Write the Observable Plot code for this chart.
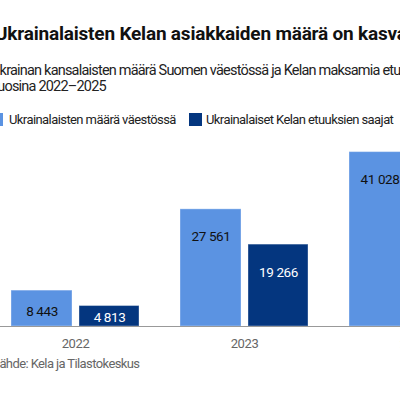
<!DOCTYPE html>
<html><head><meta charset="utf-8">
<script src="https://cdn.jsdelivr.net/npm/d3@7"></script>
<script src="https://cdn.jsdelivr.net/npm/@observablehq/plot@0.6"></script>
<style>
body{margin:0;background:#fff;}
#wrap{position:relative;width:400px;height:400px;overflow:hidden;font-family:Roboto,sans-serif;color:#111;background:#fff;}
.t{position:absolute;white-space:nowrap;}
#title{left:-5px;top:21.5px;font-size:19px;line-height:24px;font-weight:700;letter-spacing:-0.2px;}
#sub{left:-9px;top:63px;font-size:14.5px;line-height:16px;color:#222;letter-spacing:-0.8px;}
.sw{position:absolute;width:13px;height:13px;top:113px;}
.lg{position:absolute;top:112.5px;font-size:13px;line-height:14px;white-space:nowrap;color:#222;letter-spacing:-0.58px;}
#cap{left:-7px;top:355.5px;font-size:13px;line-height:16px;color:#666;letter-spacing:-0.6px;}
#chart{position:absolute;left:0;top:140px;}
#chart svg{max-width:none !important;}
</style></head><body><div id="wrap">
<div class="t" id="title">Ukrainalaisten Kelan asiakkaiden määrä on kasvanut</div>
<div class="t" id="sub">Ukrainan kansalaisten määrä Suomen väestössä ja Kelan maksamia etuuksia saaneet<br>vuosina 2022–2025</div>
<div id="legend"></div>
<div id="chart"></div>
<div class="t" id="cap">Lähde: Kela ja Tilastokeskus</div>
</div>
<script>
const years = ["2022", "2023", "2024", "2025"];
const seriesNames = ["Ukrainalaisten määrä väestössä", "Ukrainalaiset Kelan etuuksien saajat"];
const seriesColors = ["#5b93e2", "#04367f"];
const populationYears = ["2022", "2023", "2024"];
const populationValues = [8443, 27561, 41028];
const kelaYears = ["2022", "2023"];
const kelaValues = [4813, 19266];

const fmt = d3.formatLocale({decimal: ",", thousands: "\u00a0", grouping: [3]}).format(",");
const popData = populationYears.map((year, i) => ({year, value: populationValues[i]}));
const kelaData = kelaYears.map((year, i) => ({year, value: kelaValues[i]}));
const labelY = d => Math.max(d.value * 0.42, d.value - 6500);

// legend
const legend = document.getElementById("legend");
const legendX = [[-10, 9], [189, 206]];
seriesNames.forEach((name, i) => {
  const sw = document.createElement("div");
  sw.className = "sw"; sw.style.left = legendX[i][0] + "px"; sw.style.background = seriesColors[i];
  const tx = document.createElement("div");
  tx.className = "lg"; tx.style.left = legendX[i][1] + "px"; tx.textContent = name;
  legend.append(sw, tx);
});

const plot = Plot.plot({
  width: 657,
  height: 220,
  marginLeft: 0,
  marginRight: 0,
  marginTop: 0,
  marginBottom: 34,
  style: {fontFamily: "Roboto, sans-serif", fontSize: "13px", color: "#666", background: "white", maxWidth: "none"},
  x: {domain: years, paddingInner: 41 / 169, paddingOuter: 11 / 169, axis: null},
  y: {domain: [0, 43760], axis: null},
  marks: [
    Plot.barY(popData, {x: "year", y: "value", fill: seriesColors[0], insetRight: 67, stroke: "white", strokeOpacity: 0.35}),
    Plot.barY(kelaData, {x: "year", y: "value", fill: seriesColors[1], insetLeft: 68, stroke: "white", strokeOpacity: 0.35}),
    Plot.ruleY([0], {stroke: "#999"}),
    Plot.text(popData, {x: "year", y: labelY, text: d => fmt(d.value), dx: -33.5, fill: "#111", fontSize: 13.5}),
    Plot.text(kelaData, {x: "year", y: labelY, text: d => fmt(d.value), dx: 34, fill: "white", fontSize: 13.5}),
    Plot.axisX({tickSize: 0, tickPadding: 12, label: null, fontSize: 13})
  ]
});
plot.querySelectorAll("text").forEach(t => { if (/\d/.test(t.textContent)) t.style.letterSpacing = "-0.4px"; });
document.getElementById("chart").append(plot);
</script>
</body></html>
